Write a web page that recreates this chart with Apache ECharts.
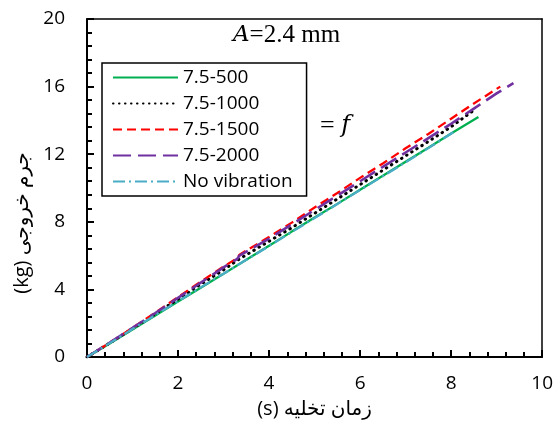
<!DOCTYPE html>
<html>
<head>
<meta charset="utf-8">
<script src="https://cdn.jsdelivr.net/npm/echarts@6/dist/echarts.min.js"></script>
<style>
html,body{margin:0;padding:0;background:#fff;}
#chart{width:556px;height:427px;}
</style>
</head>
<body>
<div id="chart"></div>
<script>
// ---- data ----
const seriesNames = ['7.5-500', '7.5-1000', '7.5-1500', '7.5-2000', 'No vibration'];

const t500 = [0, 0.5, 1.0, 1.5, 2.0, 2.5, 3.0, 3.5, 4.0, 4.5, 5.0, 5.5, 6.0, 6.5, 7.0, 7.5, 8.0, 8.6];
const m500 = [0, 0.80, 1.62, 2.46, 3.28, 4.10, 4.92, 5.76, 6.58, 7.42, 8.25, 9.06, 9.90, 10.72, 11.55, 12.38, 13.22, 14.2];

const t1000 = [0, 0.5, 1.0, 1.5, 2.0, 2.5, 3.0, 3.25, 3.35, 4.0, 4.5, 5.0, 5.5, 6.0, 6.5, 7.0, 7.5, 8.0, 8.5];
const m1000 = [0, 0.83, 1.68, 2.55, 3.42, 4.30, 5.15, 5.62, 5.80, 6.85, 7.65, 8.50, 9.35, 10.20, 11.05, 11.90, 12.75, 13.62, 14.6];

const t1500 = [0, 0.5, 1.0, 1.5, 2.0, 2.5, 3.0, 3.3, 3.35, 4.0, 4.5, 5.0, 5.5, 6.0, 6.5, 7.0, 7.5, 8.0, 8.5, 9.08];
const m1500 = [0, 0.85, 1.72, 2.62, 3.55, 4.45, 5.35, 5.85, 6.05, 7.10, 7.95, 8.85, 9.70, 10.60, 11.45, 12.35, 13.20, 14.10, 15.00, 16.0];

const t2000 = [0, 0.5, 1.0, 1.5, 2.0, 2.5, 3.0, 3.3, 3.35, 4.0, 4.5, 5.0, 5.5, 6.0, 6.5, 7.0, 7.5, 8.0, 8.5, 9.0, 9.37];
const m2000 = [0, 0.85, 1.72, 2.60, 3.50, 4.40, 5.30, 5.80, 6.00, 7.00, 7.85, 8.70, 9.55, 10.40, 11.25, 12.10, 12.95, 13.80, 14.70, 15.60, 16.2];

const tNoVib = [0, 0.5, 1.0, 1.5, 2.0, 2.5, 3.0, 3.5, 4.0, 4.5, 5.0, 5.5, 6.0, 6.5, 7.0, 7.5, 8.05];
const mNoVib = [0, 0.82, 1.66, 2.48, 3.30, 4.12, 4.93, 5.75, 6.57, 7.40, 8.22, 9.05, 9.88, 10.70, 11.52, 12.36, 13.3];

const xTicks = [0, 2, 4, 6, 8, 10];
const yTicks = [0, 4, 8, 12, 16, 20];

const xTitle = '(s) زمان تخلیه';
const yTitle = '(kg) جرم خروجی';
// ---- end data ----

function pairs(t, m) { return t.map((v, i) => [v, m[i]]); }

const FONT = "'Open Sans', 'DejaVu Sans', sans-serif";
const colors = ['#00B050', '#000000', '#FF0000', '#7030A0', '#4BACC6'];
const dashes = [null, [0.5, 5.5], [9, 5], [18, 7], [12, 4, 2, 4]];
const widths = [2.3, 3, 2.3, 2.6, 2.3];
const dataSets = [pairs(t500, m500), pairs(t1000, m1000), pairs(t1500, m1500), pairs(t2000, m2000), pairs(tNoVib, mNoVib)];

const series = seriesNames.map((n, i) => ({
  name: n,
  type: 'line',
  data: dataSets[i],
  symbol: 'none',
  showSymbol: false,
  smooth: false,
  z: i === 4 ? 3 : 2,
  lineStyle: {
    color: colors[i],
    width: widths[i],
    type: dashes[i] || 'solid',
    cap: i === 1 ? 'round' : 'butt'
  },
  itemStyle: { color: colors[i] }
}));

const xMin = xTicks[0], xMax = xTicks[xTicks.length - 1];
const yMin = yTicks[0], yMax = yTicks[yTicks.length - 1];

const frameAxis = {
  type: 'value',
  axisLine: { show: true, onZero: false, lineStyle: { color: '#000', width: 1.5 } },
  axisTick: { show: false }, minorTick: { show: false },
  axisLabel: { show: false }, splitLine: { show: false }
};

const chart = echarts.init(document.getElementById('chart'), null, { renderer: 'canvas' });
chart.setOption({
  animation: false,
  backgroundColor: '#fff',
  grid: { left: 87, right: 12, top: 19, bottom: 70 },
  xAxis: [{
    type: 'value', min: xMin, max: xMax, interval: 2, position: 'bottom',
    name: xTitle, nameLocation: 'middle', nameGap: 42,
    nameTextStyle: { fontFamily: FONT, fontSize: 20, color: '#000' },
    axisLine: { show: true, onZero: false, lineStyle: { color: '#000', width: 2 } },
    axisTick: { show: true, inside: true, length: 7, lineStyle: { color: '#000', width: 2 } },
    minorTick: { show: true, splitNumber: 5, length: 5, lineStyle: { color: '#000', width: 2 } },
    splitLine: { show: false },
    axisLabel: { fontFamily: FONT, fontSize: 19, color: '#000', margin: 17 }
  }, Object.assign({}, frameAxis, { min: xMin, max: xMax, position: 'top' })],
  yAxis: [{
    type: 'value', min: yMin, max: yMax, interval: 4, position: 'left',
    axisLine: { show: true, onZero: false, lineStyle: { color: '#000', width: 2 } },
    axisTick: { show: true, inside: true, length: 7, lineStyle: { color: '#000', width: 2 } },
    minorTick: { show: true, splitNumber: 5, length: 5, lineStyle: { color: '#000', width: 2 } },
    splitLine: { show: false },
    axisLabel: { fontFamily: FONT, fontSize: 19, color: '#000', margin: 22 }
  }, Object.assign({}, frameAxis, { min: yMin, max: yMax, position: 'right' })],
  legend: {
    orient: 'vertical', left: 102, top: 63,
    padding: [5, 14, 5, 10],
    itemWidth: 65, itemHeight: 14, itemGap: 7,
    borderColor: '#000', borderWidth: 1.5, backgroundColor: '#fff',
    itemStyle: { opacity: 0 },
    textStyle: { fontFamily: FONT, fontSize: 19, color: '#000' },
    data: seriesNames
  },
  graphic: [
    {
      type: 'text', x: 22, y: 223, rotation: Math.PI / 2,
      style: { text: yTitle, font: '20px ' + FONT, fill: '#000', align: 'center', verticalAlign: 'middle' }
    },
    {
      type: 'text', left: 233, top: 23,
      style: {
        rich: {
          a: { fontFamily: "'DejaVu Serif', 'Liberation Serif', serif", fontStyle: 'italic', fontSize: 23, fill: '#000' },
          b: { fontFamily: "'Liberation Serif', serif", fontSize: 25, fill: '#000' }
        },
        text: '{a|A}{b|=2.4 mm}'
      }
    },
    {
      type: 'text', left: 320, top: 113,
      style: {
        rich: {
          b: { fontFamily: "'Liberation Serif', serif", fontSize: 26, fill: '#000' },
          a: { fontFamily: "'DejaVu Serif', 'Liberation Serif', serif", fontStyle: 'italic', fontSize: 24, fill: '#000' }
        },
        text: '{b|= }{a|f}'
      }
    }
  ],
  series: series
});
</script>
</body>
</html>
